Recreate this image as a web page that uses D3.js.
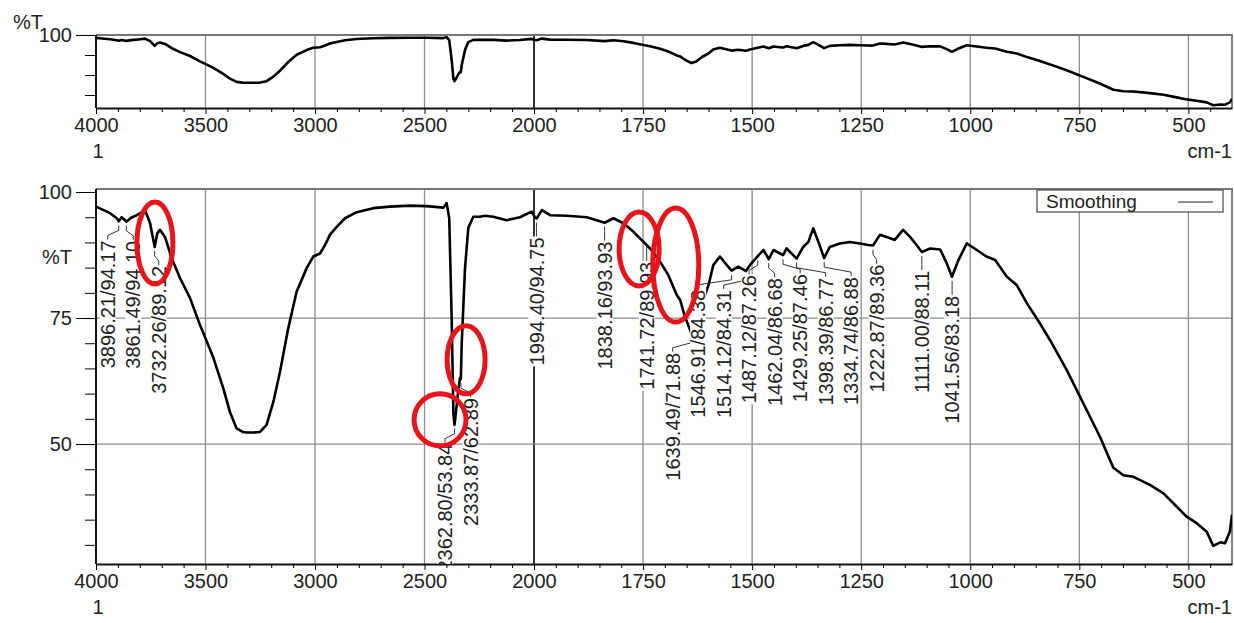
<!DOCTYPE html>
<html>
<head>
<meta charset="utf-8">
<script src="https://cdn.jsdelivr.net/npm/d3@7"></script>
<style>
  body { margin: 0; background: #fff; }
  svg { display: block; font-family: "Liberation Sans", Arial, sans-serif; }
</style>
</head>
<body>
<div id="chart"></div>
<script>
// spectrum (wavenumber cm-1 / %T)
var wavenumbers = [4000, 3960, 3936, 3905, 3896, 3883, 3870, 3861, 3840, 3814, 3790, 3776, 3753, 3732,
  3720, 3708, 3685, 3654, 3616, 3571, 3525, 3464, 3419, 3388, 3358, 3330, 3312, 3280, 3251, 3221,
  3190, 3160, 3122, 3084, 3038, 3008, 2977, 2954, 2932, 2901, 2863, 2810, 2734, 2658, 2566, 2490,
  2414, 2399, 2387, 2376, 2368, 2363, 2356, 2345, 2338, 2334, 2330, 2315, 2300, 2277, 2247, 2224,
  2186, 2125, 2064, 2011, 1998, 1994, 1982, 1963, 1925, 1879, 1838, 1818, 1795, 1772, 1749, 1734,
  1711, 1692, 1673, 1665, 1655, 1639, 1628, 1615, 1600, 1589, 1574, 1555, 1547, 1532, 1514, 1505,
  1487, 1474, 1462, 1451, 1436, 1429, 1421, 1398, 1383, 1371, 1360, 1348, 1335, 1322, 1299, 1276,
  1253, 1234, 1223, 1207, 1192, 1173, 1154, 1138, 1123, 1111, 1092, 1069, 1054, 1042, 1027, 1008,
  985, 963, 943, 916, 893, 870, 840, 817, 779, 741, 703, 672, 649, 626, 588, 557, 527, 504, 481,
  458, 443, 427, 416, 405, 400];
var transmittance = [97.1, 96.3, 95.8, 94.8, 94.2, 95.0, 94.5, 94.1, 94.9, 95.4, 96.0, 96.4, 93.8, 89.1,
  91.8, 92.5, 91.1, 86.8, 82.9, 79.0, 73.6, 67.1, 61.1, 56.3, 53.1, 52.4, 52.3, 52.3, 52.4, 53.8,
  58.4, 64.3, 73.0, 80.2, 84.9, 87.2, 87.8, 89.5, 91.5, 93.1, 94.8, 96.0, 96.8, 97.1, 97.3, 97.2,
  96.9, 97.8, 94.8, 75.0, 56.0, 53.8, 56.5, 61.0, 63.1, 62.9, 70.0, 84.9, 92.9, 95.1, 95.1, 95.3,
  95.1, 94.4, 95.0, 96.1, 95.0, 94.75, 96.4, 95.4, 95.3, 95.0, 93.9, 94.8, 93.8, 92.1, 90.1, 88.8,
  86.2, 83.5, 79.6, 78.6, 75.5, 71.9, 73.5, 78.0, 81.5, 85.5, 87.2, 85.2, 84.4, 85.2, 84.3, 85.5,
  87.3, 88.5, 86.7, 88.5, 87.8, 87.5, 88.8, 86.8, 89.1, 90.1, 92.8, 90.1, 86.9, 89.1, 89.8, 90.1,
  89.8, 89.5, 89.4, 91.5, 91.1, 90.5, 92.5, 91.1, 89.5, 88.1, 88.8, 88.6, 85.9, 83.2, 86.5, 89.8,
  88.5, 87.2, 86.5, 83.2, 81.5, 77.9, 73.9, 70.6, 64.7, 58.1, 51.5, 45.3, 43.8, 43.5, 41.9, 40.2,
  37.6, 35.6, 34.3, 32.6, 29.8, 30.5, 30.3, 32.6, 36.0];

// peak labels
var peakWavenumbers = [3896.21, 3861.49, 3732.26, 2362.80, 2333.87, 1994.40, 1838.16, 1741.72, 1639.49,
  1546.91, 1514.12, 1487.12, 1462.04, 1429.25, 1398.39, 1334.74, 1222.87, 1111.00, 1041.56];
var peakValues = [94.17, 94.10, 89.12, 53.84, 62.89, 94.75, 93.93, 89.93, 71.88,
  84.38, 84.31, 87.26, 86.68, 87.46, 86.77, 86.88, 89.36, 88.11, 83.18];

// red hand-drawn marks: centre (wavenumber, %T)
var markWavenumbers = [3731, 2310, 2429, 1759, 1675];
var markValues = [89.9, 66.7, 54.8, 88.7, 85.5];

// tick values
var xMajorTicks = [4000, 3500, 3000, 2500, 2000, 1750, 1500, 1250, 1000, 750, 500];
var yMajorBottom = [100, 75, 50];
var yMajorTop = [100];

var svgWidth = 1234;
var svgHeight = 623;
var left = 96, right = 1232;
var font = "'Liberation Sans', Arial, sans-serif";

var svg = d3.select("#chart").append("svg")
  .attr("width", svgWidth)
  .attr("height", svgHeight);

// x scale changes resolution at 2000 cm-1
var xScale = d3.scaleLinear().domain([4000, 2000, 400]).range([left, 534, right]);
var xMinor = d3.range(3900, 2000, -100).concat(d3.range(1950, 400, -50))
  .filter(function (d) { return xMajorTicks.indexOf(d) < 0; });

var spectrum = wavenumbers.map(function (w, i) { return { w: w, t: transmittance[i] }; });

function drawPanel(top, bottom, yDomain, yMajor, yMinor, id) {
  var yScale = d3.scaleLinear().domain(yDomain).range([bottom, top]);
  var g = svg.append("g");

  g.append("clipPath").attr("id", id)
    .append("rect")
    .attr("x", left).attr("y", top)
    .attr("width", right - left).attr("height", bottom - top);

  // vertical grid
  g.append("g").selectAll("line")
    .data(xMajorTicks.slice(1))
    .enter().append("line")
    .attr("x1", d => xScale(d)).attr("x2", d => xScale(d))
    .attr("y1", top).attr("y2", bottom)
    .attr("stroke", d => d === 2000 ? "#333" : "#8c8c8c")
    .attr("stroke-width", d => d === 2000 ? 2 : 1.3);

  // horizontal grid
  g.append("g").selectAll("line")
    .data(yMajor.filter(d => d < 100))
    .enter().append("line")
    .attr("x1", left).attr("x2", right)
    .attr("y1", d => yScale(d)).attr("y2", d => yScale(d))
    .attr("stroke", "#8c8c8c")
    .attr("stroke-width", 1.3);

  // frame top / right
  g.append("path")
    .attr("d", `M${left},${top}H${right}V${bottom}`)
    .attr("fill", "none")
    .attr("stroke", "#777")
    .attr("stroke-width", 1.8);

  // spectrum line
  var line = d3.line()
    .x(d => xScale(d.w))
    .y(d => yScale(d.t));

  g.append("path")
    .datum(spectrum)
    .attr("clip-path", `url(#${id})`)
    .attr("d", line)
    .attr("fill", "none")
    .attr("stroke", "#000")
    .attr("stroke-width", 2.6)
    .attr("stroke-linejoin", "round");

  // x axis
  var xAxisG = g.append("g")
    .attr("transform", `translate(0,${bottom})`)
    .call(d3.axisBottom(xScale).tickValues(xMajorTicks).tickSize(6).tickSizeOuter(0)
      .tickPadding(4).tickFormat(d3.format("d")));
  g.append("g")
    .attr("transform", `translate(0,${bottom})`)
    .call(d3.axisBottom(xScale).tickValues(xMinor).tickSize(4).tickSizeOuter(0).tickFormat(""))
    .call(a => a.select(".domain").remove());

  // y axis
  var yAxisG = g.append("g")
    .attr("transform", `translate(${left},0)`)
    .call(d3.axisLeft(yScale).tickValues(yMajor).tickSize(20).tickSizeOuter(0).tickPadding(4));
  g.append("g")
    .attr("transform", `translate(${left},0)`)
    .call(d3.axisLeft(yScale).tickValues(yMinor).tickSize(11).tickSizeOuter(0).tickFormat(""))
    .call(a => a.select(".domain").remove());

  [xAxisG, yAxisG].forEach(function (a) {
    a.attr("font-size", 20).attr("font-family", font);
    a.selectAll("text").attr("fill", "#222");
    a.select(".domain").attr("stroke", "#111").attr("stroke-width", 2);
  });
  yAxisG.select(".domain").attr("d", `M0,${top}V${bottom}`);

  // "1" and "cm-1" under the axis
  g.append("text")
    .attr("x", xScale(4000) + 2).attr("y", bottom + 50)
    .attr("text-anchor", "middle")
    .attr("font-size", 20).attr("font-family", font).attr("fill", "#222")
    .text("1");
  g.append("text")
    .attr("x", right).attr("y", bottom + 50)
    .attr("text-anchor", "end")
    .attr("font-size", 20).attr("font-family", font).attr("fill", "#222")
    .text("cm-1");

  return yScale;
}

var yTop = drawPanel(35, 108, [27, 100], yMajorTop, [80, 60, 40], "clipTop");
var yBottom = drawPanel(189, 564, [26.2, 100.6], yMajorBottom, d3.range(30, 100, 5), "clipBottom");

// %T labels
svg.append("text").attr("x", 13).attr("y", 29)
  .attr("font-size", 20).attr("font-family", font).attr("fill", "#222").text("%T");
svg.append("text").attr("x", 72).attr("y", 264).attr("text-anchor", "end")
  .attr("font-size", 20).attr("font-family", font).attr("fill", "#222").text("%T");

// peak labels, pushed apart so they do not overlap
function dodge(xs, gap) {
  var clusters = xs.map(function (x, i) { return { idx: [i], sum: x, n: 1 }; });
  function start(c) { return c.sum / c.n - (c.n - 1) * gap / 2; }
  var merged = true;
  while (merged) {
    merged = false;
    for (var i = 0; i < clusters.length - 1; i++) {
      var a = clusters[i], b = clusters[i + 1];
      if (start(a) + (a.n - 1) * gap + gap > start(b)) {
        a.idx = a.idx.concat(b.idx); a.sum += b.sum; a.n += b.n;
        clusters.splice(i + 1, 1);
        merged = true;
        break;
      }
    }
  }
  var out = [];
  clusters.forEach(function (c) {
    c.idx.forEach(function (k, j) { out[k] = start(c) + j * gap; });
  });
  return out;
}

var peakX = peakWavenumbers.map(d => xScale(d));
var labelX = dodge(peakX, 25.5);

var labelG = svg.append("g").attr("clip-path", "url(#clipBottom)");
peakWavenumbers.forEach(function (w, i) {
  var px = peakX[i], py = yBottom(peakValues[i]);
  var lx = labelX[i], topY = py + 19;
  labelG.append("path")
    .attr("d", `M${px},${py + 4}L${px},${py + 9}L${lx},${topY - 5}L${lx},${topY}`)
    .attr("fill", "none").attr("stroke", "#333").attr("stroke-width", 1);
  var t = labelG.append("g").attr("transform", `translate(${lx},${topY}) rotate(-90)`);
  var bg = t.append("rect").attr("fill", "#fff");
  var txt = t.append("text")
    .attr("x", 0).attr("y", 0)
    .attr("text-anchor", "end")
    .attr("dy", "0.36em")
    .attr("font-size", 20).attr("font-family", font).attr("fill", "#222")
    .text(w.toFixed(2) + "/" + peakValues[i].toFixed(2));
  var len = txt.node().getComputedTextLength();
  bg.attr("x", -len - 1).attr("y", -8).attr("width", len + 2).attr("height", 16);
});

// legend
var legend = svg.append("g");
legend.append("rect")
  .attr("x", 1037).attr("y", 190).attr("width", 186).attr("height", 22)
  .attr("fill", "#fff").attr("stroke", "#555").attr("stroke-width", 1.3);
legend.append("text")
  .attr("x", 1046).attr("y", 208)
  .attr("font-size", 19).attr("font-family", font).attr("fill", "#222")
  .text("Smoothing");
legend.append("line")
  .attr("x1", 1178).attr("x2", 1213).attr("y1", 202).attr("y2", 202)
  .attr("stroke", "#222").attr("stroke-width", 1);

// red ellipses drawn over the spectrum
var markRx = [18, 19, 26, 20, 23];
var markRy = [41, 34, 26, 37, 57];
svg.append("g").selectAll("ellipse")
  .data(markWavenumbers)
  .enter().append("ellipse")
  .attr("cx", d => xScale(d))
  .attr("cy", (d, i) => yBottom(markValues[i]))
  .attr("rx", (d, i) => markRx[i])
  .attr("ry", (d, i) => markRy[i])
  .attr("fill", "none")
  .attr("stroke", "#e8141b")
  .attr("stroke-width", 5);
</script>
</body>
</html>
